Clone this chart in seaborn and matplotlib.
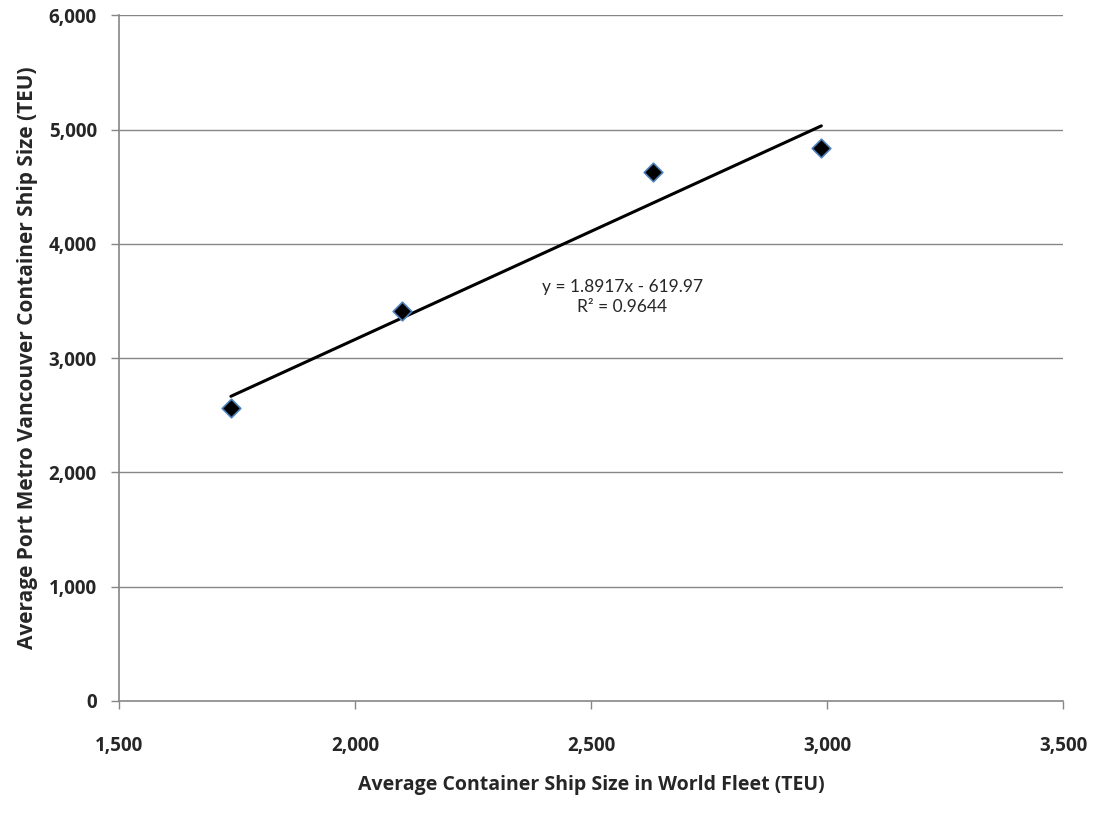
import numpy as np
import pandas as pd
import seaborn as sns
import matplotlib.pyplot as plt

# data
world_fleet_teu = [1737, 2100, 2631, 2988]
vancouver_teu = [2566, 3415, 4626, 4842]
trend_slope = 1.8917
trend_intercept = -619.97
r_squared = 0.9644

x_ticks = [1500, 2000, 2500, 3000, 3500]
y_ticks = [0, 1000, 2000, 3000, 4000, 5000, 6000]

df = pd.DataFrame({"world": world_fleet_teu, "vancouver": vancouver_teu})

sns.set_style("white")
plt.rcParams["font.family"] = ["Open Sans", "DejaVu Sans"]

fig = plt.figure(figsize=(10.95, 8.36), dpi=100)
ax = fig.add_axes([0.1087, 0.1615, 0.8621, 0.8202])

grid_col = "#868686"
for yv in y_ticks[1:]:
    ax.axhline(yv, color=grid_col, lw=1.0, zorder=0)

# linear trendline over the data range
xs = np.array([min(world_fleet_teu), max(world_fleet_teu)])
ax.plot(xs, trend_slope * xs + trend_intercept, color="black", lw=2.2, zorder=2)

sns.scatterplot(data=df, x="world", y="vancouver", marker="D", s=90,
                color="black", edgecolor="#4F81BD", linewidth=1.2,
                zorder=3, ax=ax)

ax.text(2566, 3535, f"y = {trend_slope}x - {abs(trend_intercept)}\nR² = {r_squared}",
        ha="center", va="center", fontsize=12.5, linespacing=1.25,
        family=["Lato", "DejaVu Sans"])

ax.set_xlim(1500, 3500)
ax.set_ylim(0, 6000)
ax.set_xticks(x_ticks)
ax.set_yticks(y_ticks)
ax.set_xticklabels([f"{v:,}" for v in x_ticks], fontsize=13.5, fontweight="bold")
ax.set_yticklabels([f"{v:,}" for v in y_ticks], fontsize=13.5, fontweight="bold")
ax.tick_params(axis="both", direction="out", length=6, width=1, color=grid_col,
               bottom=True, left=True)
ax.tick_params(axis="x", pad=19)
ax.tick_params(axis="y", pad=10)

for side in ["top", "right"]:
    ax.spines[side].set_visible(False)
for side in ["left", "bottom"]:
    ax.spines[side].set_color(grid_col)
    ax.spines[side].set_linewidth(1.2)

ax.set_xlabel("Average Container Ship Size in World Fleet (TEU)", fontsize=14,
              fontweight="bold", labelpad=14)
ax.set_ylabel("Average Port Metro Vancouver Container Ship Size (TEU)", fontsize=15,
              fontweight="bold", labelpad=8)

fig.savefig("out.png", dpi=100)
